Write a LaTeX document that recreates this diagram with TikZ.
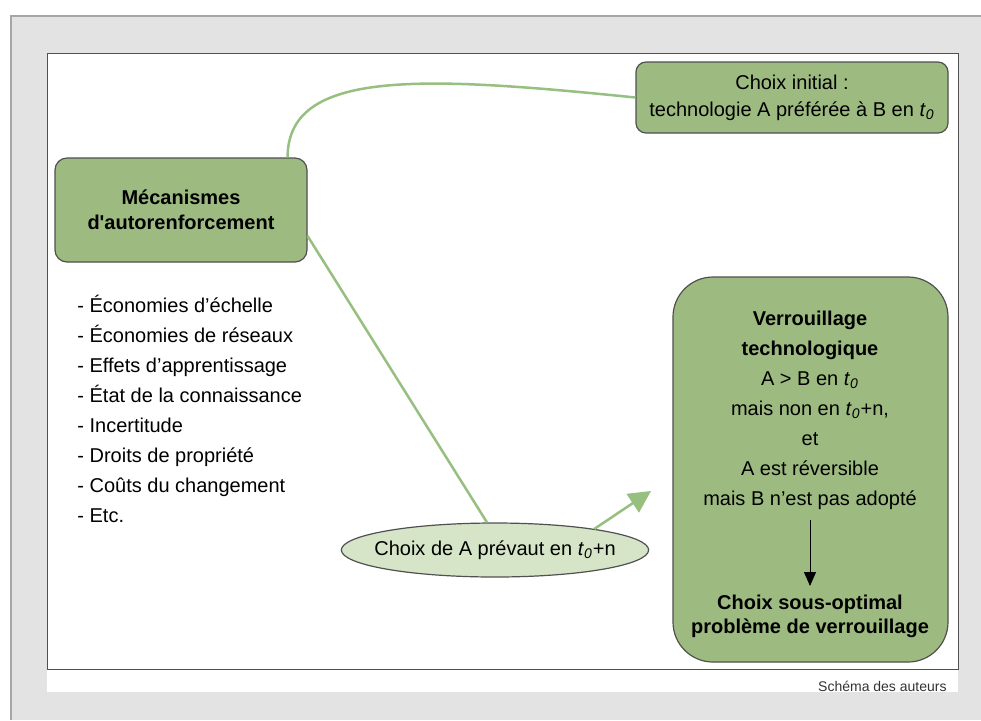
\documentclass[tikz,border=0pt]{standalone}
\usepackage{fontspec}
\setmainfont{Liberation Sans}
\usetikzlibrary{shapes, arrows.meta, positioning}
\definecolor{boxgreen}{HTML}{9DBB81}
\definecolor{palegreen}{HTML}{D6E5C7}
\definecolor{linkgreen}{HTML}{96BF80}
\definecolor{edgegray}{HTML}{505050}
\definecolor{pagegray}{HTML}{E3E3E3}
\newcommand{\tzero}{\textit{t}\textsubscript{\textit{0}}}

\begin{document}
\begin{tikzpicture}[x=0.5pt, y=-0.5pt, font=\fontsize{10}{13}\selectfont,
    box/.style={draw=edgegray, fill=boxgreen, line width=0.6pt, align=center},
    link/.style={draw=linkgreen, line width=1.25pt}]
        \useasboundingbox (0,0) rectangle (981,720);
        % page and frame
        \fill[pagegray] (11,16) rectangle (981,720);
        \draw[gray!70, line width=0.8pt] (11,720) -- (11,16) -- (981,16);
        \fill[white] (47,669) rectangle (958,692);
        \filldraw[fill=white, draw=edgegray, line width=0.5pt] (47,53) rectangle (958,669);

        \node (mech) [box, rounded corners=6pt, minimum width=126pt, minimum height=52pt, font=\bfseries\fontsize{10}{12.5}\selectfont] at (181,210) {Mécanismes\\d\textquotesingle autorenforcement};
        \node (init) [box, rounded corners=5pt, minimum width=156pt, minimum height=35.5pt, font=\fontsize{10}{13.5}\selectfont] at (792,97.5) {Choix initial :\\technologie A préférée à B en \tzero};
        \node (verrou) [box, rounded corners=20pt, minimum width=137.5pt, minimum height=192.5pt] at (810.5,469.5) {};
        \node (ell) [ellipse, draw=edgegray, fill=palegreen, line width=0.6pt, inner xsep=-6pt, inner ysep=0pt, minimum width=152.5pt, minimum height=27pt] at (495,550) {Choix de A prévaut en \tzero+n};

        \node (effects) [anchor=north west, inner sep=0pt, align=left, font=\fontsize{10}{14.95}\selectfont] at (77,295) {- Économies d’échelle\\- Économies de réseaux\\- Effets d’apprentissage\\- État de la connaissance\\- Incertitude\\- Droits de propriété\\- Coûts du changement\\- Etc.};

        \node (lock) [anchor=north, inner sep=0pt, align=center, font=\fontsize{10}{14.95}\selectfont] at (810,311) {\textbf{Verrouillage}\\\textbf{technologique}\\A > B en \tzero\\mais non en \tzero+n,\\et\\A est réversible\\mais B n’est pas adopté};
        \node (subopt) [anchor=north, inner sep=0pt, align=center, font=\bfseries\fontsize{10}{12}\selectfont] at (810,595) {Choix sous-optimal\\problème de verrouillage};

        \coordinate (tip) at (651,491);

        \draw[link] ([xshift=-10pt]mech.north east) .. controls +(0,-88) and +(-216,-22) .. (init.west);
        \draw[link] ([yshift=-13pt]mech.east) -- ([xshift=-4pt]ell.north);
        \draw[link, -{Triangle[length=11pt, width=11pt]}, linkgreen] (ell.12) -- (tip);
        \draw[-{Triangle[length=7pt, width=6pt]}, line width=0.5pt, shorten <=5pt, shorten >=4.5pt] (lock) -- (subopt);

        \node (source) [anchor=east, inner sep=0pt, text=black!80, font=\fontsize{7}{8}\selectfont] at (947,686) {Schéma des auteurs};
    \end{tikzpicture}
\end{document}
